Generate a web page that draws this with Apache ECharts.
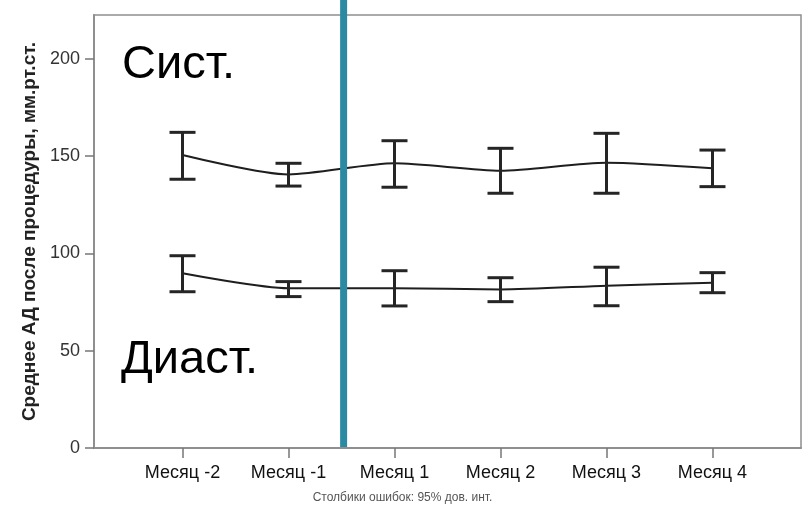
<!DOCTYPE html>
<html>
<head>
<meta charset="utf-8">
<script src="https://cdn.jsdelivr.net/npm/echarts@6/dist/echarts.min.js"></script>
<style>
  html, body { margin: 0; padding: 0; background: #fff; }
  #chart { width: 805px; height: 506px; }
</style>
</head>
<body>
<div id="chart"></div>
<script>
// Месяцы наблюдения
const months = ['Месяц -2', 'Месяц -1', 'Месяц 1', 'Месяц 2', 'Месяц 3', 'Месяц 4'];

// Систолическое АД: среднее и границы 95% ДИ
const sysMean  = [150.6, 140.6, 146.3, 142.5, 146.6, 143.7];
const sysLow   = [138.1, 134.6, 134.0, 130.9, 130.9, 134.3];
const sysHigh  = [162.2, 146.3, 157.9, 154.0, 161.7, 153.1];

// Диастолическое АД: среднее и границы 95% ДИ
const diaMean  = [89.8, 82.1, 82.1, 81.5, 83.4, 84.9];
const diaLow   = [80.3, 77.8, 73.0, 75.2, 73.1, 79.8];
const diaHigh  = [98.8, 85.5, 91.1, 87.5, 92.9, 90.1];

// Деления оси Y
const yTicks = [0, 50, 100, 150, 200];

// Момент процедуры (между Месяц -1 и Месяц 1)
const procedureAt = 1.52;

const FONT = '"Liberation Sans", Arial, sans-serif';
const AXIS_GREY = '#8f8f8f';

const idx = months.map((_, i) => i);
const pairs = arr => arr.map((v, i) => [i, v]);

function errorBars(low, high) {
  return {
    type: 'custom',
    coordinateSystem: 'cartesian2d',
    data: idx.map(i => [i, low[i], high[i]]),
    encode: { x: 0, y: [1, 2] },
    z: 3,
    renderItem: function (params, api) {
      const x = api.value(0);
      const lo = api.coord([x, api.value(1)]);
      const hi = api.coord([x, api.value(2)]);
      const half = 13;
      const style = { stroke: '#252525', lineWidth: 3 };
      return {
        type: 'group',
        children: [
          { type: 'line', shape: { x1: lo[0], y1: lo[1], x2: hi[0], y2: hi[1] }, style },
          { type: 'line', shape: { x1: hi[0] - half, y1: hi[1], x2: hi[0] + half, y2: hi[1] }, style },
          { type: 'line', shape: { x1: lo[0] - half, y1: lo[1], x2: lo[0] + half, y2: lo[1] }, style }
        ]
      };
    }
  };
}

function meanLine(values) {
  return {
    type: 'line',
    data: pairs(values),
    smooth: 0.25,
    symbol: 'none',
    z: 2,
    lineStyle: { color: '#1e1e1e', width: 2 }
  };
}

const chart = echarts.init(document.getElementById('chart'), null, { renderer: 'canvas' });

chart.setOption({
  animation: false,
  backgroundColor: '#ffffff',
  grid: {
    left: 94, right: 4, top: 15, bottom: 58,
    show: true,
    borderColor: AXIS_GREY,
    borderWidth: 1.5,
    backgroundColor: 'transparent'
  },
  xAxis: {
    type: 'value',
    min: -0.835,
    max: 5.835,
    splitLine: { show: false },
    axisLine: { show: true, onZero: false, lineStyle: { color: AXIS_GREY, width: 2 } },
    axisTick: {
      show: true, length: 10, inside: false,
      customValues: idx,
      lineStyle: { color: '#777', width: 1.5 }
    },
    axisLabel: {
      customValues: idx,
      formatter: v => months[Math.round(v)],
      color: '#111',
      fontFamily: FONT,
      fontSize: 18,
      margin: 16
    }
  },
  yAxis: {
    type: 'value',
    min: 0,
    max: 222.5,
    splitLine: { show: false },
    axisLine: { show: true, onZero: false, lineStyle: { color: AXIS_GREY, width: 2 } },
    axisTick: {
      show: true, length: 9,
      customValues: yTicks,
      lineStyle: { color: '#777', width: 1.5 }
    },
    axisLabel: {
      customValues: yTicks,
      color: '#333',
      fontFamily: FONT,
      fontSize: 18,
      margin: 14
    },
    name: 'Среднее АД после процедуры, мм.рт.ст.',
    nameLocation: 'middle',
    nameRotate: 90,
    nameGap: 55,
    nameTextStyle: {
      fontFamily: FONT,
      fontSize: 19,
      fontWeight: 'bold',
      color: '#222'
    }
  },
  graphic: [
    {
      type: 'text', left: 122, top: 42,
      style: { text: 'Сист.', font: '47px ' + FONT, fill: '#000' }
    },
    {
      type: 'text', left: 121, top: 337,
      style: { text: 'Диаст.', font: '47px ' + FONT, fill: '#000' }
    },
    {
      type: 'text', left: 'center', top: 492,
      style: { text: 'Столбики ошибок: 95% дов. инт.', font: '12px ' + FONT, fill: '#555' }
    }
  ],
  series: [
    meanLine(sysMean),
    meanLine(diaMean),
    errorBars(sysLow, sysHigh),
    errorBars(diaLow, diaHigh),
    {
      // вертикальная отметка момента процедуры
      type: 'custom',
      coordinateSystem: 'cartesian2d',
      data: [[procedureAt, 0]],
      clip: false,
      z: 5,
      renderItem: function (params, api) {
        const bottom = api.coord([api.value(0), api.value(1)]);
        return {
          type: 'line',
          shape: { x1: bottom[0], y1: 0, x2: bottom[0], y2: bottom[1] - 1 },
          style: { stroke: '#2b8aa2', lineWidth: 7 }
        };
      }
    }
  ]
});
</script>
</body>
</html>
